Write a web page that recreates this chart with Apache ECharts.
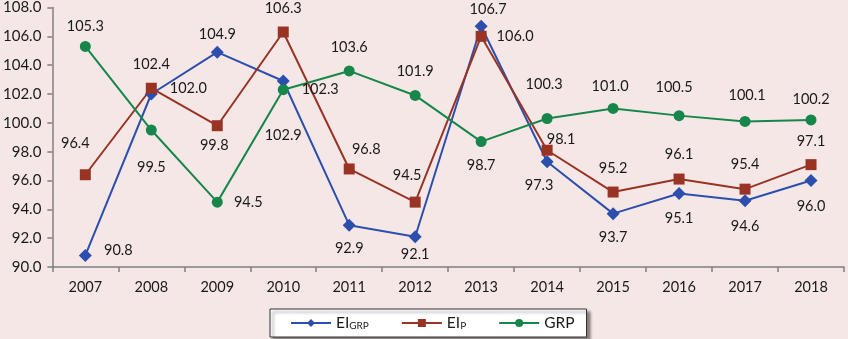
<!DOCTYPE html>
<html>
<head>
<meta charset="utf-8">
<script src="https://cdn.jsdelivr.net/npm/echarts@6/dist/echarts.min.js"></script>
<style>
  html, body { margin: 0; padding: 0; background: #f6e7e7; }
  #main { width: 848px; height: 339px; }
</style>
</head>
<body>
<div id="main"></div>
<script>
const years = ['2007','2008','2009','2010','2011','2012','2013','2014','2015','2016','2017','2018'];
const eiGrp = [90.8, 102.0, 104.9, 102.9, 92.9, 92.1, 106.7, 97.3, 93.7, 95.1, 94.6, 96.0];
const eiP   = [96.4, 102.4, 99.8, 106.3, 96.8, 94.5, 106.0, 98.1, 95.2, 96.1, 95.4, 97.1];
const grp   = [105.3, 99.5, 94.5, 102.3, 103.6, 101.9, 98.7, 100.3, 101.0, 100.5, 100.1, 100.2];

// label offsets from the marker centre, [dx, dy]
const eiGrpLab = [[33,-5],[37,-6],[0,-18],[0,54],[0,23],[0,18],[7,-17],[-8,24],[0,24],[0,25],[0,26],[0,26]];
const eiPLab   = [[-10,-31],[0,-24],[-3,20],[0,-24],[17,-20],[-8,-27],[34,0],[14,-11],[0,-24],[0,-25],[0,-25],[0,-23]];
const grpLab   = [[0,-20],[0,37],[31,0],[37,0],[0,-24],[0,-24],[0,24],[-3,-34],[-3,-22],[-5,-28],[2,-26],[0,-21]];

const font = 'Lato';

function points(vals, offs) {
  return vals.map((v, i) => ({
    value: v,
    label: { offset: offs[i] }
  }));
}

function makeSeries(name, vals, offs, color, symbol, size) {
  return {
    name: name,
    type: 'line',
    data: points(vals, offs),
    symbol: symbol,
    symbolSize: size,
    lineStyle: { color: color, width: 2 },
    itemStyle: { color: color },
    label: {
      show: true,
      position: 'inside',
      color: '#1a1a1a',
      fontFamily: font,
      fontSize: 14.5,
      formatter: p => p.value.toFixed(1)
    },
    emphasis: { disabled: true },
    animation: false
  };
}

const chart = echarts.init(document.getElementById('main'));
chart.setOption({
  backgroundColor: '#f6e7e7',
  grid: { left: 52, right: 4, top: 5, bottom: 72 },
  legend: {
    left: 270,
    top: 309,
    itemWidth: 40,
    itemHeight: 10,
    itemGap: 32,
    padding: [6, 12, 6, 20],
    backgroundColor: '#ffffff',
    borderColor: '#333',
    borderWidth: 1,
    shadowColor: 'rgba(0,0,0,0.45)',
    shadowBlur: 3,
    shadowOffsetX: 3,
    shadowOffsetY: 3,
    formatter: function (name) {
      if (name === 'EI_GRP') return '{a|EI}{s|GRP}';
      if (name === 'EI_P') return '{a|EI}{s|P}';
      return '{a|GRP}';
    },
    textStyle: {
      rich: {
        a: { fontFamily: font, fontSize: 15.5, color: '#1a1a1a' },
        s: { fontFamily: font, fontSize: 10, color: '#1a1a1a', padding: [6, 0, 0, 0] }
      }
    },
    data: ['EI_GRP', 'EI_P', 'GRP']
  },
  xAxis: {
    type: 'category',
    data: years,
    boundaryGap: true,
    axisLine: { lineStyle: { color: '#808080', width: 1.5 } },
    axisTick: { show: true, interval: 0, length: 5, lineStyle: { color: '#808080', width: 1.5 } },
    axisLabel: { interval: 0, color: '#1a1a1a', fontFamily: font, fontSize: 14.5, margin: 13 },
    splitLine: { show: false }
  },
  yAxis: {
    type: 'value',
    min: 90,
    max: 108,
    interval: 2,
    axisLine: { show: true, lineStyle: { color: '#808080', width: 1.5 } },
    axisTick: { show: true, length: 5, lineStyle: { color: '#808080', width: 1.5 } },
    axisLabel: { color: '#1a1a1a', fontFamily: font, fontSize: 15, margin: 11, formatter: v => v.toFixed(1) },
    splitLine: { show: false }
  },
  series: [
    makeSeries('EI_GRP', eiGrp, eiGrpLab, '#2c4fae', 'diamond', 13),
    makeSeries('EI_P', eiP, eiPLab, '#993425', 'rect', 11),
    makeSeries('GRP', grp, grpLab, '#17864a', 'circle', 11)
  ]
});
window.addEventListener('resize', chart.resize);
</script>
</body>
</html>
